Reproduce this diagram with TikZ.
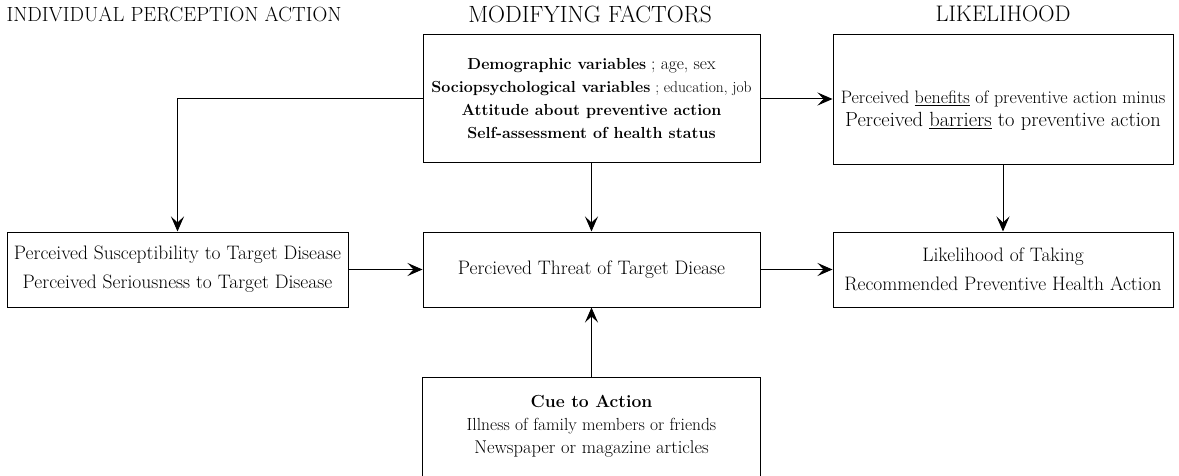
\documentclass[tikz,border=0pt]{standalone}
\usepackage{fontspec}
\usetikzlibrary{arrows.meta}

\begin{document}
\begin{tikzpicture}[x=1pt, y=-1pt,
    box/.style={draw, line width=1pt, align=center, inner sep=0pt},
    title/.style={font=\fontsize{20.5}{22}\selectfont},
    arr/.style={line width=1pt, -{Stealth[length=15pt, width=13pt, inset=6pt]}}]
  \clip (0,0) rectangle (1179,476);
  \useasboundingbox (0,0) rectangle (1179,476);

  \node[title] (tperc) at (174,14) {INDIVIDUAL PERCEPTION ACTION};
  \node[title, font=\fontsize{23.5}{25}\selectfont] (tmod) at (590,14) {MODIFYING FACTORS};
  \node[title, font=\fontsize{22.5}{25}\selectfont] (tlik) at (1003,14) {LIKELIHOOD};

  \node[box, minimum width=337pt, minimum height=128pt,
        font=\fontsize{16}{23}\selectfont] (mod) at (591.5,99)
    {\textbf{Demographic variables} {\fontsize{17.5}{23}\selectfont ; age, sex}\\
     \textbf{Sociopsychological variables} {\fontsize{15.5}{23}\selectfont ; education, job}\\
     \textbf{Attitude about preventive action}\\
     \textbf{Self-assessment of health status}};
  \node[box, minimum width=340pt, minimum height=130pt] (lik) at (1003,100) {};
  \node[align=center, font=\fontsize{20.5}{23}\selectfont] (likt) at (1003,111)
    {{\fontsize{18}{23}\selectfont Perceived \underline{benefits} of preventive action minus}\\
     Perceived \underline{barriers} to preventive action};

  \node[box, minimum width=341pt, minimum height=75pt,
        font=\fontsize{19.5}{29}\selectfont] (perc) at (177.5,269.5)
    {Perceived Susceptibility to Target Disease\\
     Perceived Seriousness to Target Disease};
  \node[box, minimum width=337pt, minimum height=75pt,
        font=\fontsize{19.5}{29}\selectfont] (threat) at (591.5,269.5)
    {Percieved Threat of Target Diease};
  \node[box, minimum width=340pt, minimum height=75pt,
        font=\fontsize{19.5}{29}\selectfont] (act) at (1003,269.5)
    {Likelihood of Taking\\
     Recommended Preventive Health Action};

  \node[box, minimum width=338pt, minimum height=130pt, anchor=north,
        inner ysep=18pt, font=\fontsize{17.5}{23}\selectfont] (cue) at (591.5,377)
    {\textbf{Cue to Action}\\
     Illness of family members or friends\\
     {\fontsize{18.5}{23}\selectfont Newspaper or magazine articles}\\[40pt]};

  \draw[arr] (mod.west) -| (perc.north);
  \draw[arr] (mod.east) -- (lik.west |- mod.east);
  \draw[arr] (mod.south) -- (threat.north);
  \draw[arr] (lik.south) -- (act.north);
  \draw[arr] (perc) -- (threat);
  \draw[arr] (threat) -- (act);
  \draw[arr] (cue.north) -- (threat.south);
\end{tikzpicture}
\end{document}
